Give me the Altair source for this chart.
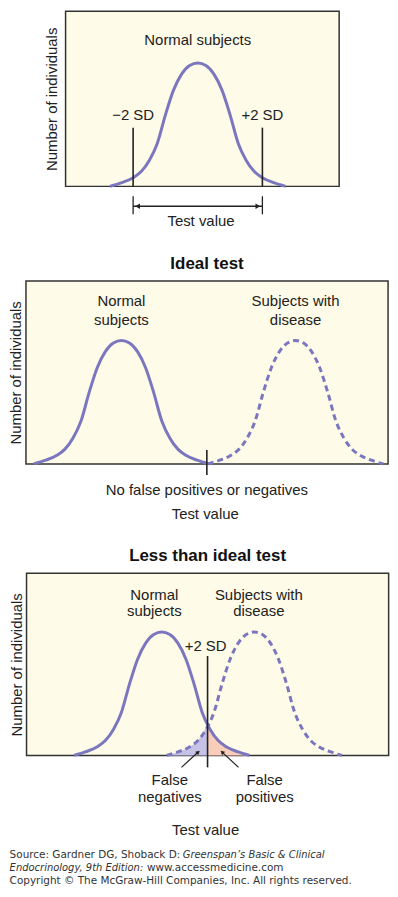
import altair as alt
import pandas as pd

FONT = "Liberation Sans"
FOOT_FONT = "DejaVu Sans"
BG = "#fefbe8"
BORDER = "#333333"
CURVE = "#7b77bf"
FN_FILL = "#c6c2e6"
FP_FILL = "#f9cdb9"
INK = "#222222"

# Bell-curve shape: offset from the mean (in SD) and height (% of peak)
SHAPE_OFFSET = [-2.72, -2.35, -2.0, -1.75, -1.5, -1.25, -1.0, -0.75, -0.5, -0.25, 0.0,
                0.25, 0.5, 0.75, 1.0, 1.25, 1.5, 1.75, 2.0, 2.35, 2.72]
SHAPE_HEIGHT = [0, 3, 7, 12, 21, 35, 58, 78, 91, 98, 100,
                98, 91, 78, 58, 35, 21, 12, 7, 3, 0]

# ---- Panel 1: normal subjects, +/- 2 SD ----
P1_X_DOMAIN = [-4.09, 4.375]
P1_Y_DOMAIN = [0, 141.9]
P1_MEAN = 0.0
P1_SD_X = [-2.0, 2.0]
P1_SD_TEXT = ["\u22122 SD", "+2 SD"]
P1_SD_TOP = 47.6
P1_SD_TEXT_Y = 58.0
P1_LABEL = ["Normal subjects"]
P1_LABEL_X = [0.0]
P1_LABEL_Y = [118.5]
P1_BRACKET_Y = [-8.0, -22.6]
P1_ARROW_Y = -16.1
P1_ARROW_HEAD_X = [-1.86, 1.86]
P1_ARROW_HEAD_SHAPE = ["triangle-left", "triangle-right"]
P1_CAPTION_X = 0.1
P1_CAPTION_Y = -28.2
P1_SPACER_X = 4.513   # invisible balancing label right of the box (keeps panel centred)
P1_SPACER_Y = 72.0

# ---- Panel 2: ideal test ----
P2_X_DOMAIN = [-2.96, 8.27]
P2_Y_DOMAIN = [0, 148.4]
P2_NORMAL_MEAN = 0.0
P2_DISEASE_MEAN = 5.4
P2_CUT_X = 2.65
P2_CUT_Y = [-8.9, 11.3]
P2_LABELS = ["Normal", "subjects", "Subjects with", "disease"]
P2_LABEL_X = [0.0, 0.0, 5.4, 5.4]
P2_LABEL_Y = [132, 117, 132, 117]
P2_CAPTIONS = ["No false positives or negatives", "Test value"]
P2_CAPTION_X = [2.65, 2.6]
P2_CAPTION_Y = [-21.0, -40.3]

# ---- Panel 3: less than ideal test ----
P3_X_DOMAIN = [-4.195, 7.036]
P3_Y_DOMAIN = [0, 147.6]
P3_NORMAL_MEAN = 0.0
P3_DISEASE_MEAN = 2.87
P3_CUT_X = 1.42
P3_CUT_Y = [-9.7, 80.6]
P3_CROSS_H = 25  # height where both curves meet the cut-off line
P3_CUT_TEXT = ["+2 SD"]
P3_CUT_TEXT_X = [1.36]
P3_CUT_TEXT_Y = [88.7]
P3_LABELS = ["Normal", "subjects", "Subjects with", "disease"]
P3_LABEL_X = [-0.23, -0.23, 3.01, 3.01]
P3_LABEL_Y = [129.8, 116.9, 129.8, 116.9]
P3_ERR_LABELS = ["False", "negatives", "False", "positives"]
P3_ERR_X = [0.25, 0.25, 3.19, 3.19]
P3_ERR_Y = [-20.2, -33.9, -20.2, -33.9]
P3_ARROW_FROM_X = [0.61, 2.38]
P3_ARROW_FROM_Y = [-9.7, -9.7]
P3_ARROW_TO_X = [1.13, 1.87]
P3_ARROW_TO_Y = [2.7, 2.7]
P3_ARROW_ANGLE = [48, 312]
P3_CAPTION_X = 1.36
P3_CAPTION_Y = -60.5

# ---- Source footer ----
FOOT_TEXT = ["Source: Gardner DG, Shoback D: ", "Greenspan\u2019s Basic & Clinical",
             "Endocrinology, 9th Edition:", "www.accessmedicine.com",
             "Copyright \u00a9 The McGraw-Hill Companies, Inc. All rights reserved."]
FOOT_STYLE = ["normal", "italic", "italic", "normal", "normal"]
FOOT_SIZE = [10.5, 10, 10, 10.5, 10.5]
FOOT_X = [-17, 157, -17, 121, -17]
FOOT_Y = [283, 283, 296, 296, 309]


def xenc(field, dom):
    return alt.X(field, type="quantitative", axis=None,
                 scale=alt.Scale(domain=dom, nice=False, zero=False))


def yenc(field, dom, axis=None):
    return alt.Y(field, type="quantitative", axis=axis,
                 scale=alt.Scale(domain=dom, nice=False, zero=False))


def yaxis(pad):
    return alt.Axis(title="Number of individuals", labels=False, ticks=False,
                    domain=False, grid=False, titlePadding=pad, minExtent=0, maxExtent=0,
                    titleFont=FONT, titleFontSize=15, titleFontWeight="normal",
                    titleColor=INK)


def curve(mean, xd, yd, dashed=False, axis=None):
    df = pd.DataFrame({"x": [mean + o for o in SHAPE_OFFSET], "h": SHAPE_HEIGHT})
    kw = dict(color=CURVE, strokeWidth=3, interpolate="monotone")
    if dashed:
        kw["strokeDash"] = [6, 4]
    return alt.Chart(df).mark_line(**kw).encode(x=xenc("x", xd), y=yenc("h", yd, axis))


def texts(labels, xs, ys, xd, yd, size=15, weight="normal", **kw):
    df = pd.DataFrame({"t": labels, "x": xs, "y": ys})
    return alt.Chart(df).mark_text(font=FONT, fontSize=size, fontWeight=weight, color=INK,
                                   baseline="middle", align="center", **kw).encode(
        x=xenc("x", xd), y=yenc("y", yd), text="t:N")


# ---------------- Panel 1 ----------------
xd, yd = P1_X_DOMAIN, P1_Y_DOMAIN
p1_curve = curve(P1_MEAN, xd, yd, axis=yaxis(6))
p1_sd = alt.Chart(pd.DataFrame({"x": P1_SD_X, "y0": [0, 0], "y1": [P1_SD_TOP] * 2})).mark_rule(
    color=INK, strokeWidth=1.6).encode(x=xenc("x", xd), y=yenc("y0", yd), y2="y1")
p1_sd_text = texts(P1_SD_TEXT, P1_SD_X, [P1_SD_TEXT_Y] * 2, xd, yd)
p1_label = texts(P1_LABEL, P1_LABEL_X, P1_LABEL_Y, xd, yd)
p1_bracket = alt.Chart(pd.DataFrame({"x": P1_SD_X, "y0": [P1_BRACKET_Y[0]] * 2,
                                     "y1": [P1_BRACKET_Y[1]] * 2})).mark_rule(
    color=INK, strokeWidth=1.3).encode(x=xenc("x", xd), y=yenc("y0", yd), y2="y1")
p1_arrow = alt.Chart(pd.DataFrame({"x0": [P1_SD_X[0]], "x1": [P1_SD_X[1]],
                                   "y": [P1_ARROW_Y]})).mark_rule(
    color=INK, strokeWidth=1.3).encode(x=xenc("x0", xd), x2="x1", y=yenc("y", yd))
p1_heads = alt.Chart(pd.DataFrame({"x": P1_ARROW_HEAD_X, "y": [P1_ARROW_Y] * 2,
                                   "s": P1_ARROW_HEAD_SHAPE})).mark_point(
    filled=True, color=INK, opacity=1, size=30).encode(
    x=xenc("x", xd), y=yenc("y", yd), shape=alt.Shape("s:N", scale=None))
p1_caption = texts(["Test value"], [P1_CAPTION_X], [P1_CAPTION_Y], xd, yd)
p1_spacer = texts(["Number of individuals"], [P1_SPACER_X], [P1_SPACER_Y], xd, yd,
                  size=11, angle=90, opacity=0)

panel1 = alt.layer(p1_curve, p1_sd, p1_sd_text, p1_label, p1_bracket, p1_arrow, p1_heads,
                   p1_caption, p1_spacer).resolve_axis(y="independent").properties(
    width=275, height=176)

# ---------------- Panel 2 ----------------
xd, yd = P2_X_DOMAIN, P2_Y_DOMAIN
p2_normal = curve(P2_NORMAL_MEAN, xd, yd, axis=yaxis(2))
p2_disease = curve(P2_DISEASE_MEAN, xd, yd, dashed=True)
p2_cut = alt.Chart(pd.DataFrame({"x": [P2_CUT_X], "y0": [P2_CUT_Y[0]], "y1": [P2_CUT_Y[1]]})).mark_rule(
    color=INK, strokeWidth=1.6).encode(x=xenc("x", xd), y=yenc("y0", yd), y2="y1")
p2_labels = texts(P2_LABELS, P2_LABEL_X, P2_LABEL_Y, xd, yd)
p2_captions = texts(P2_CAPTIONS, P2_CAPTION_X, P2_CAPTION_Y, xd, yd)

panel2 = alt.layer(p2_normal, p2_disease, p2_cut, p2_labels, p2_captions).resolve_axis(
    y="independent").properties(
    width=364, height=184,
    title=alt.TitleParams("Ideal test", font=FONT, fontSize=17, fontWeight="bold",
                          color="#111111", anchor="middle", offset=8))

# ---------------- Panel 3 ----------------
xd, yd = P3_X_DOMAIN, P3_Y_DOMAIN
fn_x = [P3_DISEASE_MEAN + o for o in SHAPE_OFFSET if P3_DISEASE_MEAN + o < P3_CUT_X - 0.1]
fn_h = [h for o, h in zip(SHAPE_OFFSET, SHAPE_HEIGHT) if P3_DISEASE_MEAN + o < P3_CUT_X - 0.1]
fp_x = [P3_NORMAL_MEAN + o for o in SHAPE_OFFSET if P3_NORMAL_MEAN + o > P3_CUT_X + 0.05]
fp_h = [h for o, h in zip(SHAPE_OFFSET, SHAPE_HEIGHT) if P3_NORMAL_MEAN + o > P3_CUT_X + 0.05]
p3_fn = alt.Chart(pd.DataFrame({"x": fn_x + [P3_CUT_X], "h": fn_h + [P3_CROSS_H]})).mark_area(
    color=FN_FILL, interpolate="monotone").encode(x=xenc("x", xd), y=yenc("h", yd))
p3_fp = alt.Chart(pd.DataFrame({"x": [P3_CUT_X] + fp_x, "h": [P3_CROSS_H] + fp_h})).mark_area(
    color=FP_FILL, interpolate="monotone").encode(x=xenc("x", xd), y=yenc("h", yd))
p3_normal = curve(P3_NORMAL_MEAN, xd, yd, axis=yaxis(2))
p3_disease = curve(P3_DISEASE_MEAN, xd, yd, dashed=True)
p3_cut = alt.Chart(pd.DataFrame({"x": [P3_CUT_X], "y0": [P3_CUT_Y[0]], "y1": [P3_CUT_Y[1]]})).mark_rule(
    color=INK, strokeWidth=1.6).encode(x=xenc("x", xd), y=yenc("y0", yd), y2="y1")
p3_cut_text = texts(P3_CUT_TEXT, P3_CUT_TEXT_X, P3_CUT_TEXT_Y, xd, yd)
p3_labels = texts(P3_LABELS, P3_LABEL_X, P3_LABEL_Y, xd, yd)
p3_err = texts(P3_ERR_LABELS, P3_ERR_X, P3_ERR_Y, xd, yd)
arrows = pd.DataFrame({"x0": P3_ARROW_FROM_X, "y0": P3_ARROW_FROM_Y, "x1": P3_ARROW_TO_X,
                       "y1": P3_ARROW_TO_Y, "a": P3_ARROW_ANGLE})
p3_arrow = alt.Chart(arrows).mark_rule(color=INK, strokeWidth=1.2).encode(
    x=xenc("x0", xd), y=yenc("y0", yd), x2="x1", y2="y1")
p3_heads = alt.Chart(arrows).mark_point(shape="triangle-up", filled=True, color=INK, opacity=1,
                                        size=22).encode(
    x=xenc("x1", xd), y=yenc("y1", yd), angle=alt.Angle("a:Q", scale=None))
p3_caption = texts(["Test value"], [P3_CAPTION_X], [P3_CAPTION_Y], xd, yd)

foot_layers = []
for t, s, fs, fx, fy in zip(FOOT_TEXT, FOOT_STYLE, FOOT_SIZE, FOOT_X, FOOT_Y):
    foot_layers.append(
        alt.Chart(pd.DataFrame({"t": [t]})).mark_text(
            font=FOOT_FONT, fontSize=fs, fontStyle=s, color="#333333", align="left",
            baseline="middle").encode(text="t:N", x=alt.value(fx), y=alt.value(fy)))

panel3 = alt.layer(p3_fn, p3_fp, p3_normal, p3_disease, p3_cut, p3_cut_text, p3_labels,
                   p3_err, p3_arrow, p3_heads, p3_caption, *foot_layers).resolve_axis(
    y="independent").properties(
    width=364, height=183,
    title=alt.TitleParams("Less than ideal test", font=FONT, fontSize=17, fontWeight="bold",
                          color="#111111", anchor="middle", offset=8))

chart = alt.vconcat(panel1, panel2, panel3, spacing=24, center=True).properties(
    padding={"left": 0, "top": 0, "right": 0, "bottom": 0},
    autosize=alt.AutoSizeParams(type="pad")
).configure(font=FONT).configure_view(fill=BG, stroke=BORDER, strokeWidth=1.5)

chart.save("out.html", embed_options={"renderer": "svg", "actions": False})
